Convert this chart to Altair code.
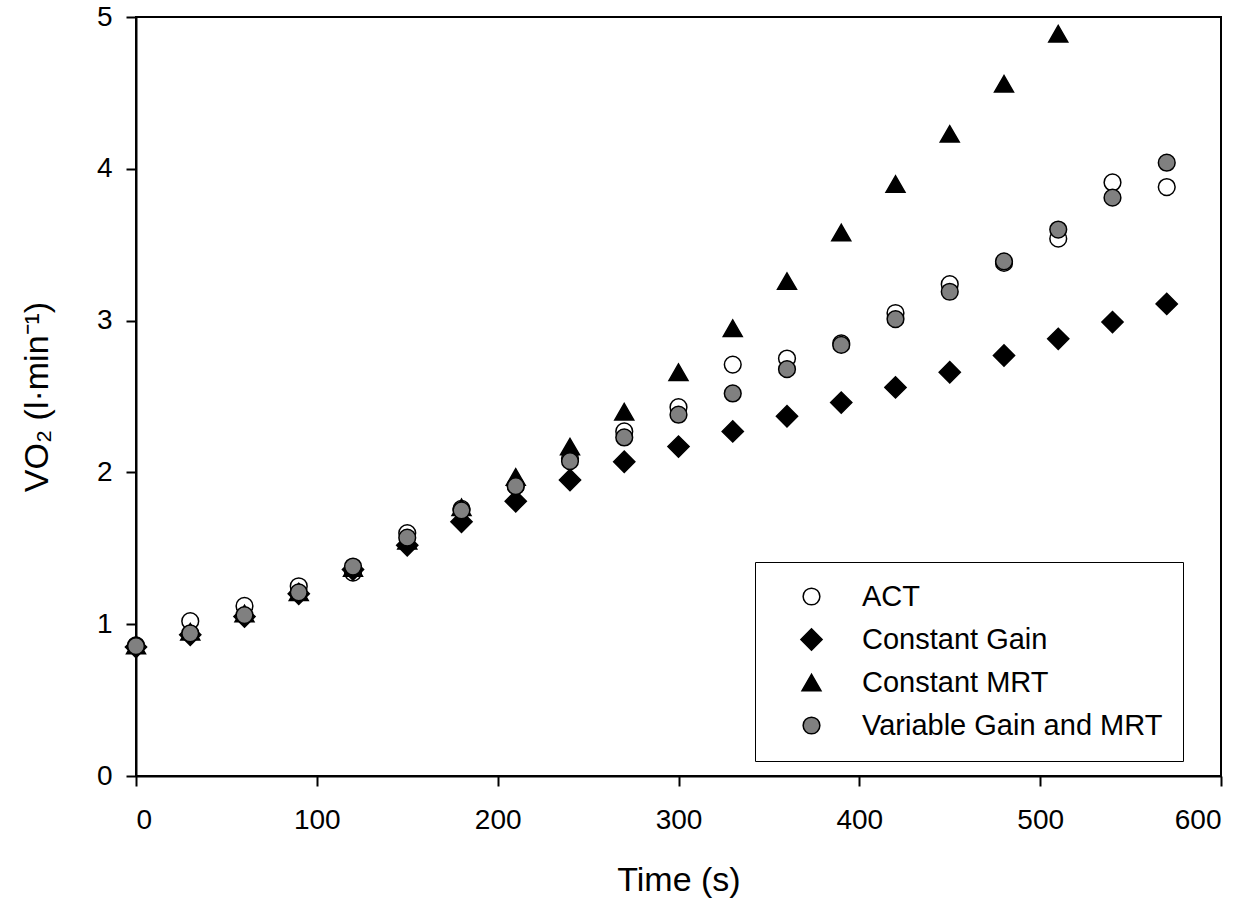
import altair as alt
import pandas as pd

time_s = [0, 30, 60, 90, 120, 150, 180, 210, 240, 270, 300, 330, 360, 390, 420, 450, 480, 510, 540, 570]

act = [0.86, 1.02, 1.12, 1.25, 1.34, 1.60, 1.76, 1.91, 2.09, 2.27, 2.43, 2.71, 2.75, 2.85, 3.05, 3.24, 3.38, 3.54, 3.91, 3.88]
constant_gain = [0.85, 0.93, 1.05, 1.20, 1.36, 1.52, 1.675, 1.81, 1.95, 2.07, 2.17, 2.27, 2.37, 2.46, 2.56, 2.66, 2.77, 2.88, 2.99, 3.11]
constant_mrt_time = [0, 30, 60, 90, 120, 150, 180, 210, 240, 270, 300, 330, 360, 390, 420, 450, 480, 510]
constant_mrt = [0.86, 0.95, 1.07, 1.21, 1.37, 1.55, 1.77, 1.97, 2.17, 2.40, 2.66, 2.95, 3.26, 3.58, 3.90, 4.23, 4.56, 4.89]
variable = [0.856, 0.94, 1.06, 1.21, 1.38, 1.57, 1.75, 1.91, 2.075, 2.23, 2.38, 2.52, 2.68, 2.84, 3.01, 3.19, 3.39, 3.60, 3.81, 4.04]

series_names = ["ACT", "Constant Gain", "Constant MRT", "Variable Gain and MRT"]

rows = []
for t, v in zip(time_s, act):
    rows.append({"time": t, "vo2": v, "series": series_names[0]})
for t, v in zip(time_s, constant_gain):
    rows.append({"time": t, "vo2": v, "series": series_names[1]})
for t, v in zip(constant_mrt_time, constant_mrt):
    rows.append({"time": t, "vo2": v, "series": series_names[2]})
for t, v in zip(time_s, variable):
    rows.append({"time": t, "vo2": v, "series": series_names[3]})
df = pd.DataFrame(rows)

FONT = "Liberation Sans"

legend = alt.Legend(
    orient="none", legendX=619, legendY=545, padding=20,
    strokeColor="black", fillColor="white",
    labelFont=FONT, labelFontSize=29, labelColor="black", labelLimit=500,
    symbolOffset=22, labelOffset=36, rowPadding=13,
    symbolStrokeWidth=1.5,
)

chart = alt.Chart(df).mark_point(filled=True, strokeWidth=1.5, opacity=1).encode(
    x=alt.X("time:Q", scale=alt.Scale(domain=[0, 600], nice=False),
            axis=alt.Axis(title="Time (s)", values=[0, 100, 200, 300, 400, 500, 600],
                          labelPadding=20, titlePadding=29)),
    y=alt.Y("vo2:Q", scale=alt.Scale(domain=[0, 5], nice=False),
            axis=alt.Axis(title="VO₂ (l·min⁻¹)", values=[0, 1, 2, 3, 4, 5],
                          labelPadding=14, titlePadding=42)),
    shape=alt.Shape("series:N", title=None, legend=legend,
                    scale=alt.Scale(domain=series_names,
                                    range=["circle", "diamond", "triangle-up", "circle"])),
    fill=alt.Fill("series:N", title=None, legend=legend,
                  scale=alt.Scale(domain=series_names,
                                  range=["white", "black", "black", "#808080"])),
    stroke=alt.Stroke("series:N", title=None, legend=legend,
                      scale=alt.Scale(domain=series_names,
                                      range=["black", "black", "black", "black"])),
    size=alt.Size("series:N", title=None, legend=legend,
                  scale=alt.Scale(type="ordinal", domain=series_names, range=[280, 450, 360, 280])),
    order=alt.Order("series:N"),
).properties(
    width=1085, height=759,
    background="white",
    autosize=alt.AutoSizeParams(type="none"),
    padding={"left": 136, "top": 17, "right": 38, "bottom": 133},
).configure_view(
    stroke="black", strokeWidth=2
).configure_axis(
    grid=False, domainColor="black", domainWidth=2, tickColor="black", tickWidth=2,
    tickSize=10, labelFont=FONT, labelFontSize=28, labelColor="black",
    titleFont=FONT, titleFontSize=34, titleFontWeight="normal", titleColor="black",
)

chart.save("out.html", embed_options={"renderer": "svg", "actions": False})
